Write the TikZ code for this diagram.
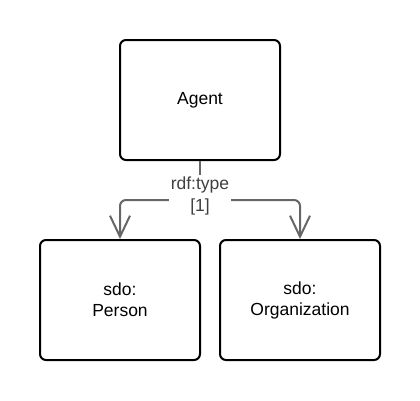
\documentclass[tikz,border=0pt]{standalone}
\usepackage{fontspec}
\setmainfont{Liberation Sans}
\usetikzlibrary{arrows.meta}
\begin{document}
\begin{tikzpicture}[x=1pt,y=-1pt,
  box/.style={draw=black,line width=2pt,rounded corners=6pt,fill=white,
    minimum width=160pt,minimum height=120pt,align=center,inner sep=0pt,
    font=\fontsize{17.5}{21}\selectfont},
  conn/.style={draw=black!60,line width=2pt,rounded corners=6pt},
  arr/.style={-{Straight Barb[length=21pt,width=20pt,line width=2pt]}},
  lbl/.style={fill=white,align=center,inner sep=2pt,text=black!75,
    font=\fontsize{17.5}{22}\selectfont}]
\useasboundingbox (0,0) rectangle (420,400);
\node[box] (agent) at (200,100) {Agent};
\node[box] (person) at (120,300) {sdo:\\Person};
\node[box] (org) at (300,300) {sdo:\\Organization};
\coordinate (split) at (200,200);
\draw[conn] (agent.south) -- (split);
\draw[conn,arr] (split) -| (person.north);
\draw[conn,arr] (split) -| (org.north);
\node[lbl] (label) at (200,196) {rdf:type\\{}[1]};
\end{tikzpicture}
\end{document}
